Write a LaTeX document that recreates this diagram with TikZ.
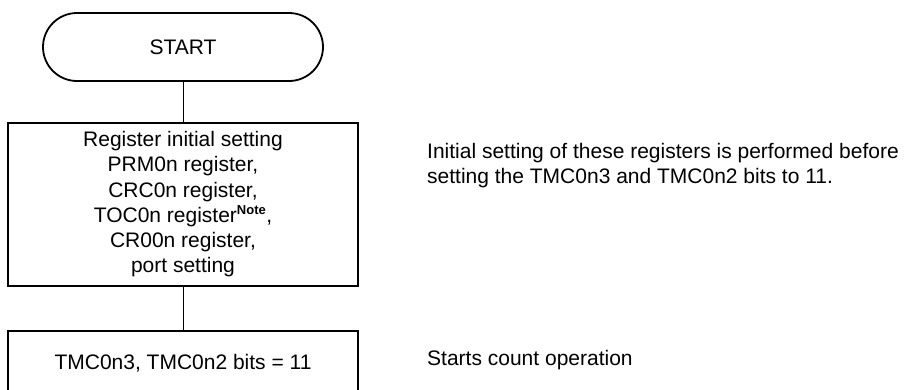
\documentclass[tikz,border=0pt]{standalone}
\usepackage{fontspec}
\setmainfont{Liberation Sans}
\usetikzlibrary{positioning}
\tikzset{
  term/.style={rectangle, draw=black, line width=1.8pt, rounded corners=34pt,
    minimum width=280pt, minimum height=68pt, inner sep=0pt},
  proc/.style={rectangle, draw=black, line width=1.8pt, align=center,
    minimum width=350pt, inner sep=0pt},
  note/.style={anchor=west, align=left, inner sep=0pt},
  link/.style={line width=0.9pt},
}
\newcommand{\flowfont}{\fontsize{21}{25.3}\selectfont}
\newcommand{\notemark}{\textsuperscript{\fontsize{13}{13}\selectfont\bfseries Note}}

\begin{document}
\begin{tikzpicture}[x=1pt, y=-1pt, font=\flowfont]
  \useasboundingbox (0,0) rectangle (908,389);
  \node[term] (start) at (183,47) {START};
  \node[proc, minimum height=163pt, below=40pt of start] (init)
    {Register initial setting\\ PRM0n register,\\ CRC0n register,\\
     TOC0n register\notemark,\\ CR00n register,\\ port setting};
  \node[proc, minimum height=66pt, below=43pt of init] (count)
    {TMC0n3, TMC0n2 bits = 11};
  \draw[link] (start) -- (init);
  \draw[link] (init) -- (count);
  \node[note] (initnote) at (427,165.5)
    {Initial setting of these registers is performed before\\
     setting the TMC0n3 and TMC0n2 bits to 11.};
  \node[note] (countnote) at (427,360) {Starts count operation};
\end{tikzpicture}
\end{document}
